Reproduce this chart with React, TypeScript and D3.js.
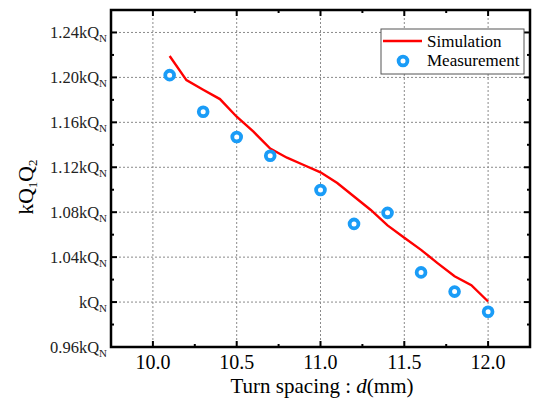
import * as d3 from 'd3';

// Turn spacing d (mm) vs kQ1Q2
const simX = [10.1, 10.2, 10.3, 10.4, 10.5, 10.6, 10.7, 10.8, 10.9, 11.0, 11.1, 11.2, 11.3, 11.4, 11.5, 11.6, 11.7, 11.8, 11.9, 12.0];
const simY = [1.219, 1.1976, 1.189, 1.1807, 1.165, 1.1517, 1.1366, 1.1285, 1.122, 1.1155, 1.106, 1.094, 1.082, 1.0683, 1.0573, 1.0465, 1.0345, 1.023, 1.015, 1.0005];

const measX = [10.1, 10.3, 10.5, 10.7, 11.0, 11.2, 11.4, 11.6, 11.8, 12.0];
const measY = [1.202, 1.1694, 1.147, 1.1303, 1.0998, 1.0696, 1.0794, 1.0264, 1.0093, 0.9914];

const xTicks = [10.0, 10.5, 11.0, 11.5, 12.0];
const xMinor = [10.25, 10.75, 11.25, 11.75];
const yTicks = [0.96, 1.0, 1.04, 1.08, 1.12, 1.16, 1.2, 1.24];
const yMinor = [0.98, 1.02, 1.06, 1.1, 1.14, 1.18, 1.22];
const yTickLabels = ['0.96kQ', 'kQ', '1.04kQ', '1.08kQ', '1.12kQ', '1.16kQ', '1.20kQ', '1.24kQ'];

const W = 539;
const H = 398;
const left = 111, right = 530, top = 10, bottom = 347;
const font = "'Liberation Serif', 'Times New Roman', Times, serif";
const blue = '#1a9cf7';

export default function App() {
  const x = d3.scaleLinear().domain([9.75, 12.25]).range([left, right]);
  const y = d3.scaleLinear().domain([0.96, 1.26]).range([bottom, top]);

  const line = d3.line<number>()
    .x(function (d, i) { return x(simX[i]); })
    .y(function (d) { return y(d); });

  const txt = { fontFamily: font };

  return (
    <svg width={W} height={H} style={{ position: 'absolute', left: 0, top: 0, background: '#fff', fontFamily: font }}>
      {/* grid */}
      {xTicks.map(function (t) {
        return <line key={'gx' + t} x1={x(t)} x2={x(t)} y1={top} y2={bottom} stroke="#8a8a8a" strokeDasharray="2,2" strokeWidth={1} />;
      })}
      {yTicks.filter(function (t) { return t > 0.96; }).map(function (t) {
        return <line key={'gy' + t} x1={left} x2={right} y1={y(t)} y2={y(t)} stroke="#8a8a8a" strokeDasharray="2,2" strokeWidth={1} />;
      })}

      {/* simulation */}
      <path d={line(simY) || ''} fill="none" stroke="#ff0000" strokeWidth={2.4} />

      {/* measurement */}
      {measY.map(function (v, i) {
        return <circle key={'m' + i} cx={x(measX[i])} cy={y(v)} r={4.4} fill="#fff" stroke={blue} strokeWidth={3.8} />;
      })}

      {/* ticks, inward on all sides */}
      {xTicks.map(function (t) {
        return (
          <g key={'tx' + t}>
            <line x1={x(t)} x2={x(t)} y1={bottom} y2={bottom - 6} stroke="#000" strokeWidth={2} />
            <line x1={x(t)} x2={x(t)} y1={top} y2={top + 6} stroke="#000" strokeWidth={2} />
          </g>
        );
      })}
      {xMinor.map(function (t) {
        return (
          <g key={'mx' + t}>
            <line x1={x(t)} x2={x(t)} y1={bottom} y2={bottom - 3} stroke="#000" strokeWidth={2} />
            <line x1={x(t)} x2={x(t)} y1={top} y2={top + 3} stroke="#000" strokeWidth={2} />
          </g>
        );
      })}
      {yTicks.map(function (t) {
        return (
          <g key={'ty' + t}>
            <line x1={left} x2={left + 6} y1={y(t)} y2={y(t)} stroke="#000" strokeWidth={2} />
            <line x1={right} x2={right - 6} y1={y(t)} y2={y(t)} stroke="#000" strokeWidth={2} />
          </g>
        );
      })}
      {yMinor.map(function (t) {
        return (
          <g key={'my' + t}>
            <line x1={left} x2={left + 3} y1={y(t)} y2={y(t)} stroke="#000" strokeWidth={2} />
            <line x1={right} x2={right - 3} y1={y(t)} y2={y(t)} stroke="#000" strokeWidth={2} />
          </g>
        );
      })}

      {/* frame */}
      <rect x={left} y={top} width={right - left} height={bottom - top} fill="none" stroke="#000" strokeWidth={2.5} />

      {/* tick labels */}
      {xTicks.map(function (t) {
        return <text key={'lx' + t} x={x(t)} y={369} fontSize={20} textAnchor="middle" fill="#000" style={txt}>{t.toFixed(1)}</text>;
      })}
      {yTicks.map(function (t, i) {
        return (
          <text key={'ly' + t} x={107} y={y(t) + 5.5} fontSize={16.5} textAnchor="end" fill="#222" style={txt}>
            {yTickLabels[i]}
            <tspan fontSize={11} dy={4}>N</tspan>
          </text>
        );
      })}

      {/* axis titles */}
      <text x={322} y={393} fontSize={21} textAnchor="middle" fill="#000" style={txt}>
        Turn spacing : <tspan fontStyle="italic">d</tspan>(mm)
      </text>
      <text transform="translate(33,187) rotate(-90)" fontSize={21.5} textAnchor="middle" fill="#000" style={txt}>
        kQ<tspan fontSize={13} dy={4}>1</tspan><tspan dy={-4}>Q</tspan><tspan fontSize={13} dy={4}>2</tspan>
      </text>

      {/* legend */}
      <rect x={381} y={29} width={143} height={45} fill="#fff" stroke="#555" strokeWidth={1} />
      <line x1={383} x2={422} y1={41} y2={41} stroke="#ff0000" strokeWidth={2.4} />
      <text x={427} y={47} fontSize={17} fill="#000" style={txt}>Simulation</text>
      <circle cx={403} cy={61} r={4.4} fill="#fff" stroke={blue} strokeWidth={3.8} />
      <text x={427} y={66} fontSize={17} fill="#000" style={txt}>Measurement</text>
    </svg>
  );
}
